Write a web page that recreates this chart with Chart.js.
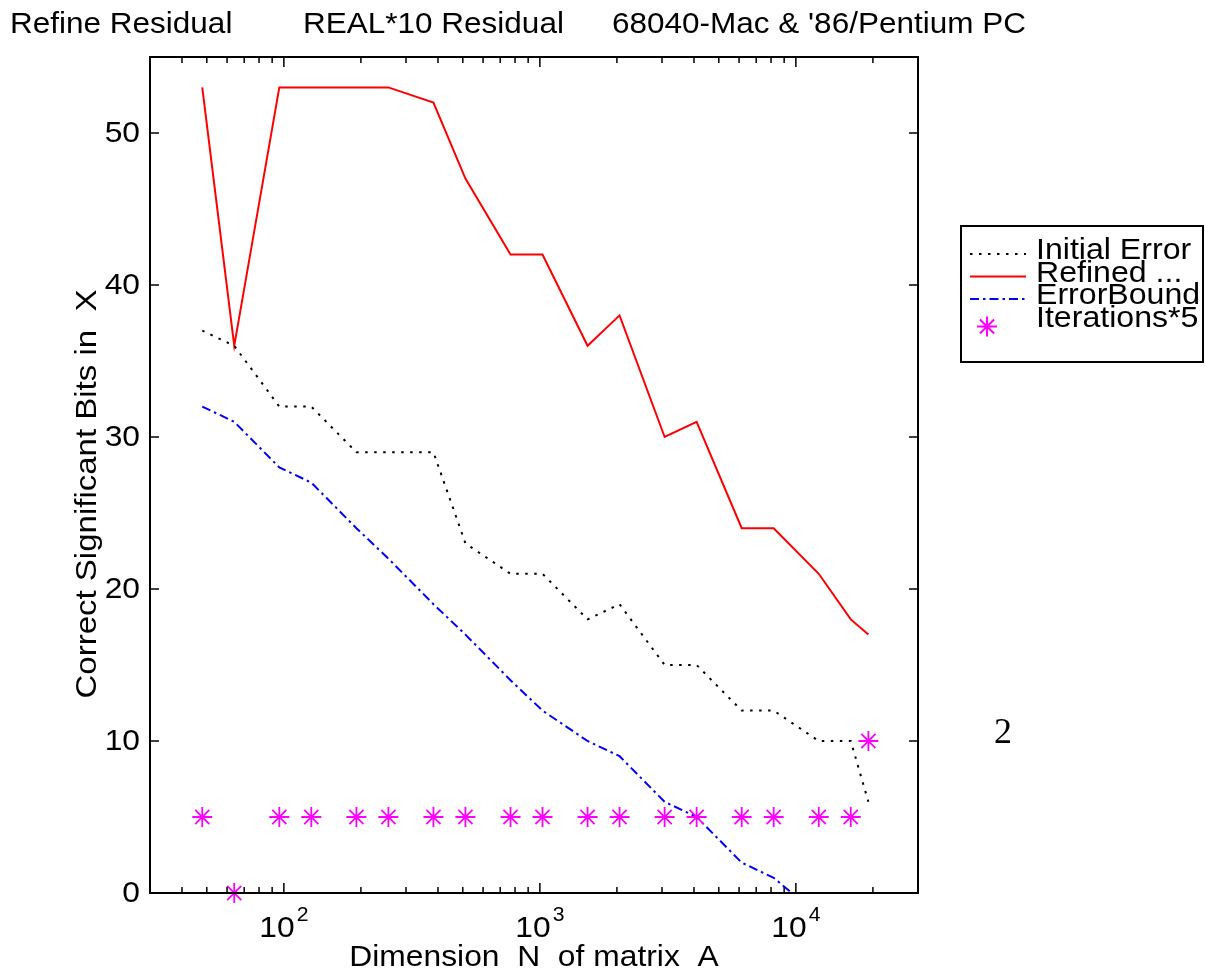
<!DOCTYPE html>
<html>
<head>
<meta charset="utf-8">
<script src="https://cdn.jsdelivr.net/npm/chart.js@4.4.0/dist/chart.umd.min.js"></script>
<style>
  body { margin: 0; background: #fff; }
  canvas { display: block; }
</style>
</head>
<body>
<canvas id="myChart" width="1205" height="973"></canvas>
<script>
// matrix sizes N and the four curves
const dims = [48, 64, 96, 128, 192, 256, 384, 512, 768, 1024, 1536, 2048, 3072, 4096, 6144, 8192, 12288, 16384, 19200];
const initialError = [37, 36, 32, 32, 29, 29, 29, 23, 21, 21, 18, 19, 15, 15, 12, 12, 10, 10, 6];
const refined = [53, 36, 53, 53, 53, 53, 52, 47, 42, 42, 36, 38, 30, 31, 24, 24, 21, 18, 17];
const errorBound = [32, 31, 28, 27, 24, 22, 19, 17, 14, 12, 10, 9, 6, 5, 2, 1, -1.5, null, null];
const iterations5 = [5, 0, 5, 5, 5, 5, 5, 5, 5, 5, 5, 5, 5, 5, 5, 5, 5, 5, 10];

const yTicks = [0, 10, 20, 30, 40, 50];
const xDecades = [2, 3, 4];
const titleParts = ['Refine Residual', 'REAL*10 Residual', "68040-Mac & '86/Pentium PC"];
const legendLabels = ['Initial Error', 'Refined ...', 'ErrorBound', 'Iterations*5'];
const xTitle = 'Dimension  N  of matrix  A';
const yTitle = 'Correct Significant Bits in  X';

const FONT = '"Liberation Sans", Arial, Helvetica, sans-serif';
const STRETCH = 1.06;   // the original font runs a bit wider than Arial
Chart.defaults.font.family = FONT;
Chart.defaults.color = '#000';

const pts = arr => dims.map((n, i) => ({ x: n, y: arr[i] }));

// minor tick values for the log axis, 30 .. 30000
const xMinor = [];
for (let e = 1; e <= 4; e++) {
  for (let m = 1; m <= 9; m++) {
    const v = m * Math.pow(10, e);
    if (v >= 30 && v <= 30000) xMinor.push(v);
  }
}

// text drawn slightly widened; align handled by hand
function wideText(ctx, text, x, y, size, align, stretch) {
  const k = stretch || STRETCH;
  ctx.font = size + 'px ' + FONT;
  const w = ctx.measureText(text).width * k;
  let x0 = x;
  if (align === 'center') x0 = x - w / 2;
  if (align === 'right') x0 = x - w;
  ctx.save();
  ctx.translate(x0, y);
  ctx.scale(k, 1);
  ctx.textAlign = 'left';
  ctx.fillText(text, 0, 0);
  ctx.restore();
  return w;
}

const framePlugin = {
  id: 'frame',
  afterDraw(chart) {
    const { ctx, chartArea: a, scales: { x, y } } = chart;
    ctx.save();

    // box round the axes
    ctx.strokeStyle = '#000';
    ctx.lineWidth = 2;
    ctx.strokeRect(a.left, a.top, a.right - a.left, a.bottom - a.top);

    // inward ticks on all four sides
    ctx.lineWidth = 1.5;
    ctx.beginPath();
    yTicks.forEach(v => {
      const py = y.getPixelForValue(v);
      ctx.moveTo(a.left, py); ctx.lineTo(a.left + 9, py);
      ctx.moveTo(a.right, py); ctx.lineTo(a.right - 9, py);
    });
    xMinor.forEach(v => {
      const px = x.getPixelForValue(v);
      const major = xDecades.some(e => Math.abs(Math.pow(10, e) - v) < 1e-6);
      const len = major ? 10 : 6;
      ctx.moveTo(px, a.bottom); ctx.lineTo(px, a.bottom - len);
      ctx.moveTo(px, a.top); ctx.lineTo(px, a.top + len);
    });
    ctx.stroke();

    ctx.fillStyle = '#000';

    // y tick labels
    ctx.textBaseline = 'middle';
    yTicks.forEach(v => {
      wideText(ctx, String(v), a.left - 10, y.getPixelForValue(v) + 1, 30, 'right');
    });

    // x tick labels 10^n with superscript
    ctx.textBaseline = 'alphabetic';
    xDecades.forEach(e => {
      const px = x.getPixelForValue(Math.pow(10, e));
      ctx.font = '30px ' + FONT;
      const w1 = ctx.measureText('10').width * STRETCH;
      ctx.font = '20px ' + FONT;
      const w2 = ctx.measureText(String(e)).width * STRETCH;
      const start = px - (w1 + w2 + 2) / 2;
      wideText(ctx, '10', start, a.bottom + 44, 30, 'left');
      wideText(ctx, String(e), start + w1 + 2, a.bottom + 28, 20, 'left');
    });

    // axis titles
    wideText(ctx, xTitle, (a.left + a.right) / 2, 966, 30, 'center');
    ctx.save();
    ctx.translate(96, 494);
    ctx.rotate(-Math.PI / 2);
    wideText(ctx, yTitle, 0, 0, 30, 'center', 1.1);
    ctx.restore();

    // title line
    [10, 303, 612].forEach((tx, i) => wideText(ctx, titleParts[i], tx, 33, 30, 'left', 1.05));

    // page number
    ctx.font = '36px "Liberation Serif", "Times New Roman", serif';
    ctx.textAlign = 'left';
    ctx.fillText('2', 994, 743);

    // legend box
    ctx.lineWidth = 2;
    ctx.strokeRect(961, 226, 242, 136);
    legendLabels.forEach((label, i) => {
      const ds = chart.data.datasets[i];
      const cy = 250 + i * 22.5;
      ctx.save();
      ctx.strokeStyle = ds.borderColor;
      if (ds.showLine === false) {
        Chart.helpers.drawPoint(ctx, {
          pointStyle: ds.pointStyle, radius: ds.pointRadius, rotation: 0, borderWidth: ds.borderWidth
        }, 987, cy + 9);
      } else {
        ctx.lineWidth = ds.borderWidth;
        ctx.setLineDash(ds.borderDash || []);
        ctx.beginPath();
        ctx.moveTo(970, cy + 4);
        ctx.lineTo(1026, cy + 4);
        ctx.stroke();
      }
      ctx.restore();
      ctx.textBaseline = 'middle';
      wideText(ctx, label, 1036, cy + 1, 30, 'left', 1.07);
    });
    ctx.restore();
  }
};

const ctx = document.getElementById('myChart').getContext('2d');
const myChart = new Chart(ctx, {
  type: 'line',
  data: {
    datasets: [
      {
        label: legendLabels[0],
        data: pts(initialError),
        borderColor: '#000',
        borderWidth: 2,
        borderDash: [2.5, 6.5],
        pointRadius: 0
      },
      {
        label: legendLabels[1],
        data: pts(refined),
        borderColor: '#ff0000',
        borderWidth: 2,
        pointRadius: 0
      },
      {
        label: legendLabels[2],
        data: pts(errorBound),
        borderColor: '#0000ff',
        borderWidth: 2,
        borderDash: [9, 4, 2.5, 4],
        pointRadius: 0
      },
      {
        label: legendLabels[3],
        data: pts(iterations5),
        showLine: false,
        pointStyle: 'star',
        pointRadius: 10,
        pointBorderWidth: 1.8,
        borderWidth: 1.8,
        borderColor: '#ff00ff',
        pointBorderColor: '#ff00ff',
        clip: false,
        order: -1
      }
    ]
  },
  options: {
    responsive: false,
    animation: false,
    devicePixelRatio: 1,
    layout: { padding: { top: 57, right: 287, bottom: 0, left: 0 } },
    plugins: {
      legend: { display: false },
      tooltip: { enabled: false }
    },
    scales: {
      x: {
        type: 'logarithmic',
        min: 30,
        max: 30000,
        grid: { display: false },
        border: { display: false },
        ticks: { display: false },
        afterFit: s => { s.height = 80; }
      },
      y: {
        min: 0,
        max: 55,
        grid: { display: false },
        border: { display: false },
        ticks: { display: false, stepSize: 10, includeBounds: false },
        afterFit: s => { s.width = 150; }
      }
    }
  },
  plugins: [framePlugin]
});
</script>
</body>
</html>
